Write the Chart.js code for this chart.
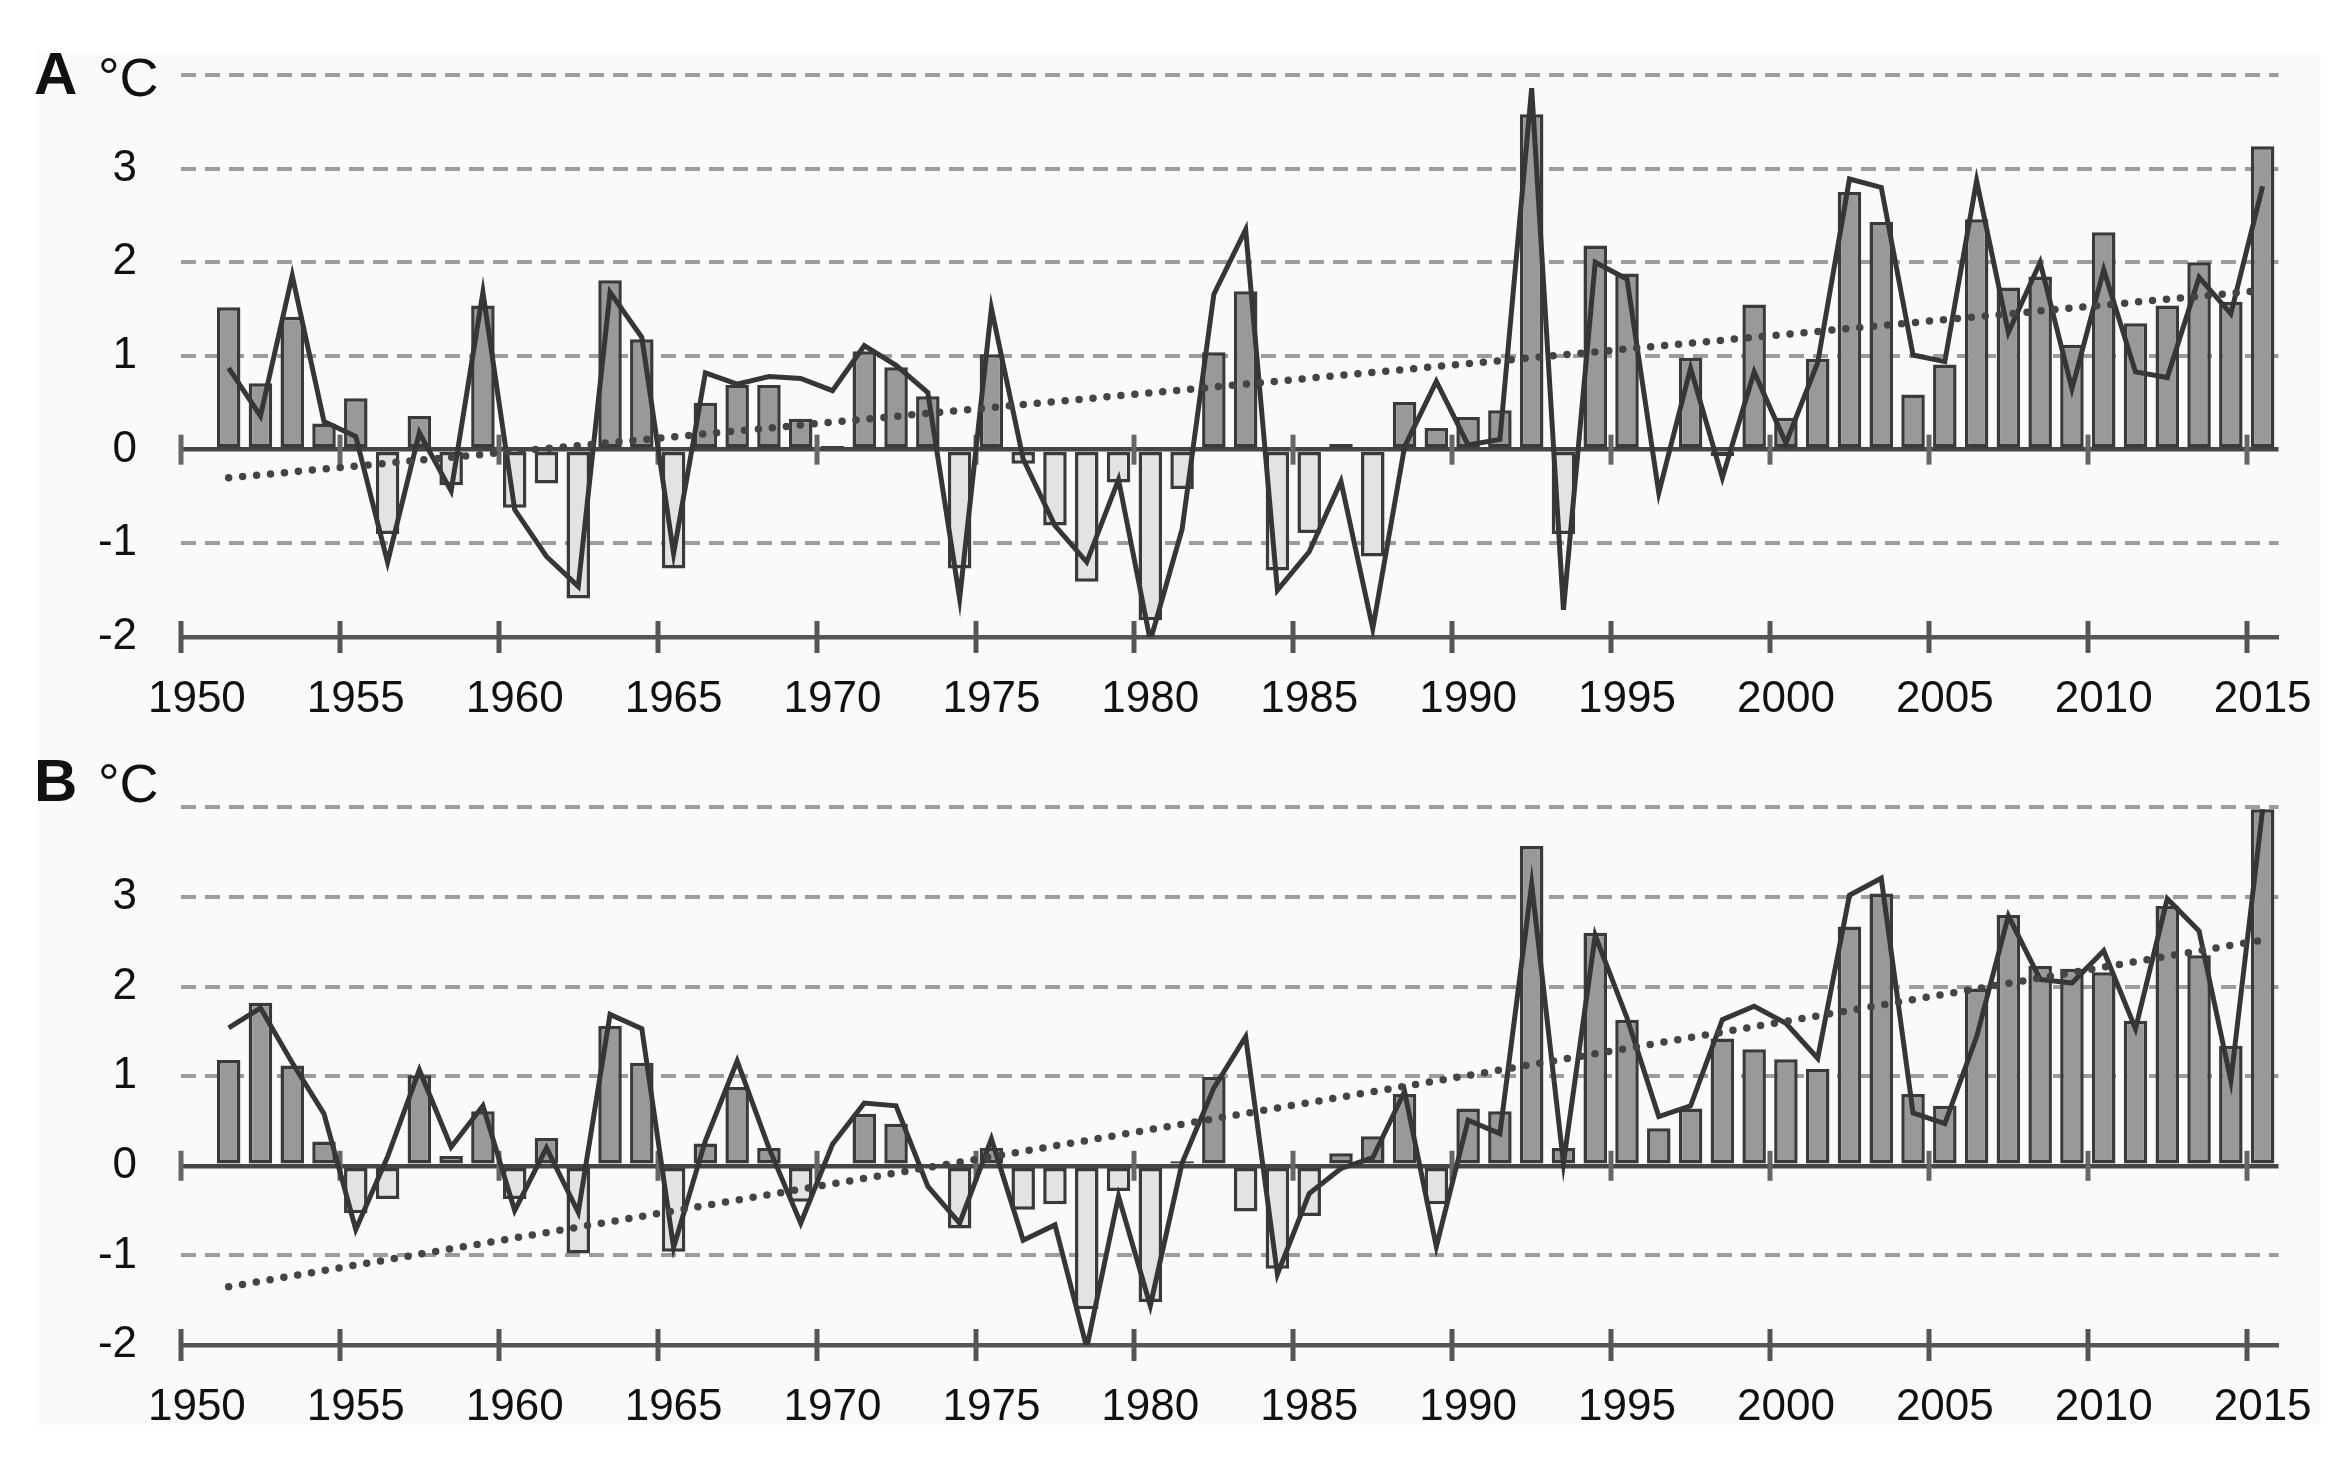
<!DOCTYPE html>
<html>
<head>
<meta charset="utf-8">
<script src="https://cdn.jsdelivr.net/npm/chart.js@4.4.1/dist/chart.umd.min.js"></script>
<style>
  html, body { margin: 0; padding: 0; background: #fff; }
  #page { position: relative; width: 2348px; height: 1475px; overflow: hidden; }
  #paper { position: absolute; left: 36px; top: 54px; width: 2285px; height: 1371px; background: #fafafa; }
  canvas { position: absolute; left: 0; }
  .lbl { position: absolute; font-family: "Liberation Sans Narrow", "Arial Narrow", "Liberation Sans", sans-serif; color: #111; white-space: nowrap; }
  .panel { font-weight: bold; font-size: 60px; line-height: 60px; }
  .unit { font-size: 54px; line-height: 54px; }
</style>
</head>
<body>
<div id="page">
  <div id="paper"></div>
  <canvas id="chartA" width="2348" height="737" style="top:0"></canvas>
  <canvas id="chartB" width="2348" height="738" style="top:737px"></canvas>
  <div class="lbl panel" style="left:34px; top:44px">A</div>
  <div class="lbl unit" style="left:98px; top:50px">°C</div>
  <div class="lbl panel" style="left:34px; top:751px">B</div>
  <div class="lbl unit" style="left:98px; top:756px">°C</div>
</div>
<script>
// годы по оси X (1950 — пустая категория, данные с 1951)
const years = [];
for (let y = 1950; y <= 2015; y++) years.push(y);

// A: столбцы и кривая, 1951-2015
const barsA = [
  1.52, 0.71, 1.42, 0.28, 0.55, -0.90, 0.36, -0.38, 1.54, -0.62,   // 1951-1960
  -0.36, -1.59, 1.81, 1.18, -1.27, 0.50, 0.69, 0.69, 0.33, 0.04,   // 1961-1970
  1.05, 0.88, 0.57, -1.27, 1.02, -0.15, -0.81, -1.41, -0.35, -1.82, // 1971-1980
  -0.42, 1.04, 1.69, -1.29, -0.89, 0.06, -1.14, 0.51, 0.23, 0.35,  // 1981-1990
  0.42, 3.58, -0.90, 2.18, 1.88, 0.00, 0.98, -0.07, 1.55, 0.34,    // 1991-2000
  0.97, 2.75, 2.43, 0.59, 0.91, 2.46, 1.73, 1.85, 1.12, 2.32,      // 2001-2010
  1.35, 1.54, 2.00, 1.58, 3.24                                     // 2011-2015
];
const lineA = [
  0.87, 0.36, 1.86, 0.30, 0.14, -1.20, 0.18, -0.44, 1.68, -0.64,
  -1.14, -1.46, 1.68, 1.20, -1.11, 0.82, 0.70, 0.78, 0.76, 0.63,
  1.11, 0.90, 0.61, -1.59, 1.51, -0.10, -0.81, -1.20, -0.32, -2.04,
  -0.85, 1.66, 2.35, -1.50, -1.09, -0.34, -1.91, 0.03, 0.73, 0.05,
  0.11, 3.86, -1.71, 2.00, 1.82, -0.46, 0.87, -0.30, 0.83, 0.07,
  0.93, 2.89, 2.80, 1.01, 0.94, 2.87, 1.25, 2.00, 0.65, 1.92,
  0.83, 0.77, 1.84, 1.45, 2.81
];
const trendA = [-0.30, 1.70]; // 1951 и 2015

// B
const barsB = [
  1.18, 1.82, 1.12, 0.27, -0.53, -0.37, 1.01, 0.11, 0.61, -0.37,
  0.31, -0.98, 1.56, 1.15, -0.96, 0.25, 0.88, 0.20, -0.40, 0.00,
  0.58, 0.47, 0.00, -0.70, 0.20, -0.49, -0.43, -1.60, -0.28, -1.52,
  0.05, 0.99, -0.51, -1.15, -0.56, 0.14, 0.33, 0.80, -0.43, 0.64,
  0.61, 3.57, 0.20, 2.60, 1.63, 0.42, 0.64, 1.42, 1.30, 1.19,
  1.08, 2.67, 3.04, 0.80, 0.67, 1.98, 2.80, 2.23, 2.20, 2.16,
  1.62, 2.90, 2.35, 1.34, 3.98
];
const lineB = [
  1.54, 1.76, 1.15, 0.58, -0.71, 0.10, 1.07, 0.21, 0.67, -0.50,
  0.20, -0.52, 1.69, 1.53, -0.91, 0.28, 1.17, 0.20, -0.64, 0.24,
  0.70, 0.67, -0.23, -0.64, 0.30, -0.83, -0.66, -2.03, -0.34, -1.56,
  0.03, 0.87, 1.44, -1.21, -0.31, -0.03, 0.09, 0.83, -0.90, 0.51,
  0.36, 3.14, 0.03, 2.57, 1.65, 0.55, 0.67, 1.63, 1.78, 1.59,
  1.20, 3.02, 3.21, 0.59, 0.47, 1.44, 2.79, 2.08, 2.04, 2.40,
  1.53, 2.98, 2.62, 0.95, 3.98
];
const trendB = [-1.35, 2.52];

const yTicks = [-2, -1, 0, 1, 2, 3, 4];

const FONT = '"Liberation Sans Narrow", "Arial Narrow", "Liberation Sans", sans-serif';
Chart.defaults.font.family = FONT;
Chart.defaults.color = '#111';

// засечки, пересекающие ось (внизу и на нуле)
const crossTicks = {
    id: 'crossTicks',
    beforeDatasetsDraw(chart) {
        const { ctx, scales: { x, y } } = chart;
        const y0 = y.getPixelForValue(0);
        const yb = y.getPixelForValue(yTicks[0]);
        ctx.save();
        ctx.lineWidth = 5;
        years.forEach((yr, i) => {
            if (yr % 5 !== 0) return;
            const px = Math.round(x.getPixelForValue(i - 0.5));
            ctx.strokeStyle = '#666';
            ctx.beginPath(); ctx.moveTo(px, y0 - 15); ctx.lineTo(px, y0 + 15); ctx.stroke();
            ctx.strokeStyle = '#555';
            ctx.beginPath(); ctx.moveTo(px, yb - 16); ctx.lineTo(px, yb + 16); ctx.stroke();
        });
        ctx.restore();
    }
};

function makeChart(id, bars, line, trend, top, xHeight) {
    const trendData = years.map((yr, i) => i === 1 ? trend[0] : (i === years.length - 1 ? trend[1] : null));
    return new Chart(document.getElementById(id), {
        type: 'bar',
        data: {
            labels: years,
            datasets: [
                {
                    type: 'line',
                    data: trendData,
                    spanGaps: true,
                    borderColor: '#444',
                    borderWidth: 7.5,
                    borderDash: [0, 14],
                    borderCapStyle: 'round',
                    pointRadius: 0,
                    order: 1
                },
                {
                    type: 'line',
                    data: [null].concat(line),
                    borderColor: '#363636',
                    borderWidth: 5,
                    pointRadius: 0,
                    tension: 0,
                    order: 2
                },
                {
                    data: [null].concat(bars),
                    backgroundColor: c => c.raw < 0 ? '#e2e4e4' : '#999999',
                    borderColor: '#3a3a3a',
                    borderWidth: 3.5,
                    borderSkipped: false,
                    barPercentage: 0.74,
                    categoryPercentage: 1,
                    order: 3
                }
            ]
        },
        options: {
            responsive: false,
            animation: false,
            devicePixelRatio: 1,
            layout: { padding: { top: top, right: 57, left: 0, bottom: 0 } },
            plugins: { legend: { display: false }, tooltip: { enabled: false } },
            scales: {
                x: {
                    offset: true,
                    grid: { display: false, drawTicks: false },
                    border: { display: true, color: '#555', width: 4.5 },
                    ticks: {
                        autoSkip: false,
                        maxRotation: 0,
                        padding: 36,
                        font: { size: 44 },
                        callback: (v, i) => years[i] % 5 === 0 ? String(years[i]) : ''
                    },
                    afterFit: s => { s.height = xHeight; }
                },
                y: {
                    min: yTicks[0],
                    max: yTicks[yTicks.length - 1],
                    grid: {
                        drawTicks: false,
                        color: c => c.tick.value === 0 ? '#454545' : (c.tick.value === yTicks[0] ? 'rgba(0,0,0,0)' : '#9c9c9c'),
                        lineWidth: c => c.tick.value === 0 ? 4.5 : 4
                    },
                    border: {
                        display: false,
                        dash: c => c.tick && c.tick.value === 0 ? [] : [15, 9]
                    },
                    ticks: {
                        stepSize: 1,
                        padding: 44,
                        font: { size: 44 },
                        callback: v => v === yTicks[yTicks.length - 1] ? '' : String(v)
                    },
                    afterFit: s => { s.width = 181; }
                }
            }
        },
        plugins: [crossTicks]
    });
}

makeChart('chartA', barsA, lineA, trendA, 75, 100);
makeChart('chartB', barsB, lineB, trendB, 46, 130);
</script>
</body>
</html>
